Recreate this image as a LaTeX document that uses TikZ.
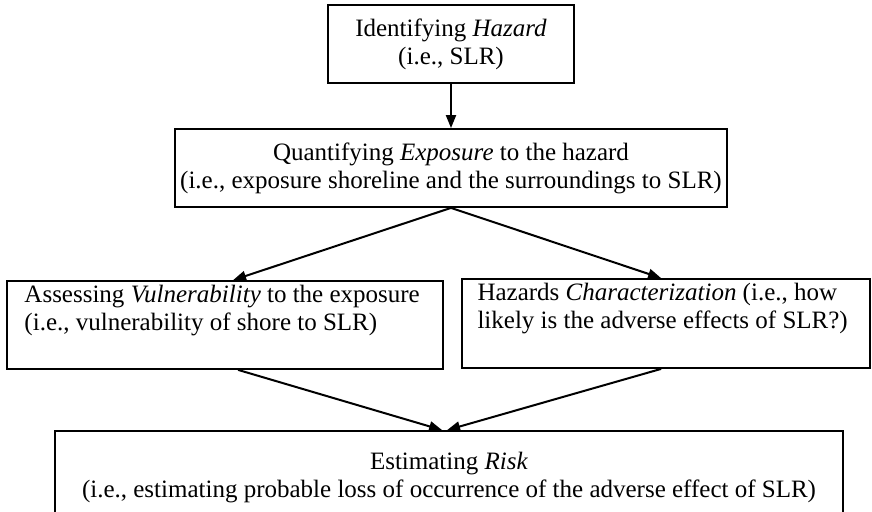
\documentclass[tikz,border=0pt]{standalone}
\usepackage{fontspec}
\setmainfont{Liberation Serif}
\usetikzlibrary{arrows.meta}
\begin{document}
\begin{tikzpicture}[x=0.5pt,y=-0.5pt,
  box/.style={draw=black, line width=0.9pt, inner sep=0pt},
  txt/.style={inner sep=0pt, font=\fontsize{12.5pt}{14pt}\selectfont},
  flow/.style={-{Triangle[length=6.5pt,width=5pt]}, line width=1pt}]
\useasboundingbox (0,0) rectangle (872,512);
\clip (0,0) rectangle (872,512);

% top: hazard identification
\node[box, txt, align=center, minimum width=123pt, minimum height=39pt]
  (hazard) at (451,44) {Identifying \textit{Hazard}\\(i.e., SLR)};

% exposure
\node[box, txt, align=center, minimum width=276pt, minimum height=39pt]
  (expo) at (451,168) {Quantifying \textit{Exposure} to the hazard\\(i.e., exposure shoreline and the surroundings to SLR)};

% vulnerability and characterization
\node[box, minimum width=218pt, minimum height=44pt] (vul) at (225,325) {};
\node[txt, align=left, anchor=north west] (vultxt) at ([xshift=9pt,yshift=-2.5pt]vul.north west)
  {Assessing \textit{Vulnerability} to the exposure\\(i.e., vulnerability of shore to SLR)};

\node[box, minimum width=204pt, minimum height=44.5pt] (char) at (666,323.5) {};
\node[txt, align=left, anchor=north west] (chartxt) at ([xshift=8pt,yshift=-2.5pt]char.north west)
  {Hazards \textit{Characterization} (i.e., how\\likely is the adverse effects of SLR?)};

% risk estimation (runs past the lower edge)
\node[box, minimum width=394pt, minimum height=54.5pt] (risk) at (449,485.5) {};
\node[txt, align=center] (risktxt) at (449,478)
  {Estimating \textit{Risk}\\(i.e., estimating probable loss of occurrence of the adverse effect of SLR)};

% connectors
\draw[flow] (hazard.south) -- (expo.north);
\draw[flow] (expo.south) -- ([xshift=113.5pt]vul.north west);
\draw[flow] (expo.south) -- ([xshift=100pt]char.north west);
\draw[flow] ([xshift=116pt]vul.south west) -- ([xshift=194pt]risk.north west);
\draw[flow] ([xshift=100pt]char.south west) -- ([xshift=196.5pt]risk.north west);
\end{tikzpicture}
\end{document}
